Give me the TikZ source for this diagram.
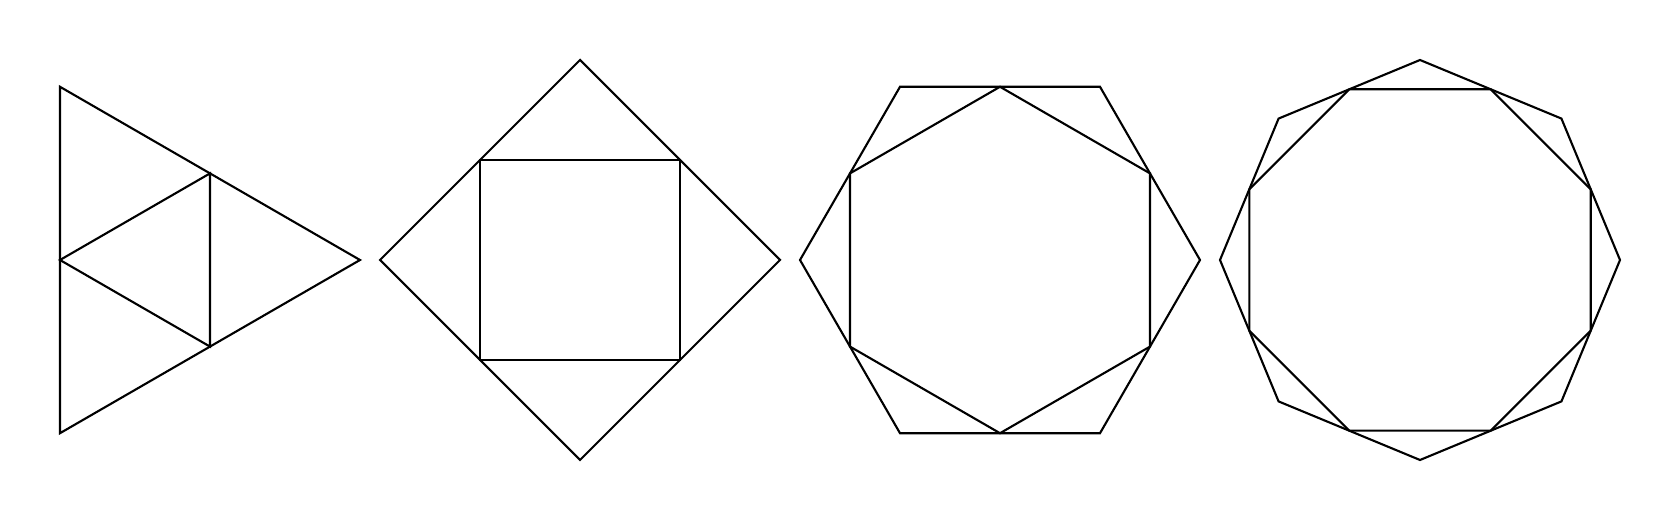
\documentclass[tikz,border=0pt]{standalone}
\begin{document}
\begin{tikzpicture}[line width=0.6pt,
  poly/.style={draw=black, line join=miter}]
\useasboundingbox (0,0) rectangle (16.8,5.2);
\foreach \n/\cx in {3/1.6,4/5.8,6/10.0,8/14.2}{
  \pgfmathsetmacro\myang{360/\n}
  \pgfmathsetmacro\myhalf{180/\n}
  \pgfmathsetmacro\myrin{2*cos(\myhalf)}
  \pgfmathtruncatemacro\mylast{\n-1}
  \begin{scope}[shift={(\cx,2.6)}]
    \path[poly] (0:2) \foreach \k in {1,...,\mylast}{ -- ({\k*\myang}:2) } -- cycle;
    \path[poly] (\myhalf:\myrin) \foreach \k in {1,...,\mylast}{ -- ({\k*\myang+\myhalf}:\myrin) } -- cycle;
  \end{scope}
}
\end{tikzpicture}
\end{document}
